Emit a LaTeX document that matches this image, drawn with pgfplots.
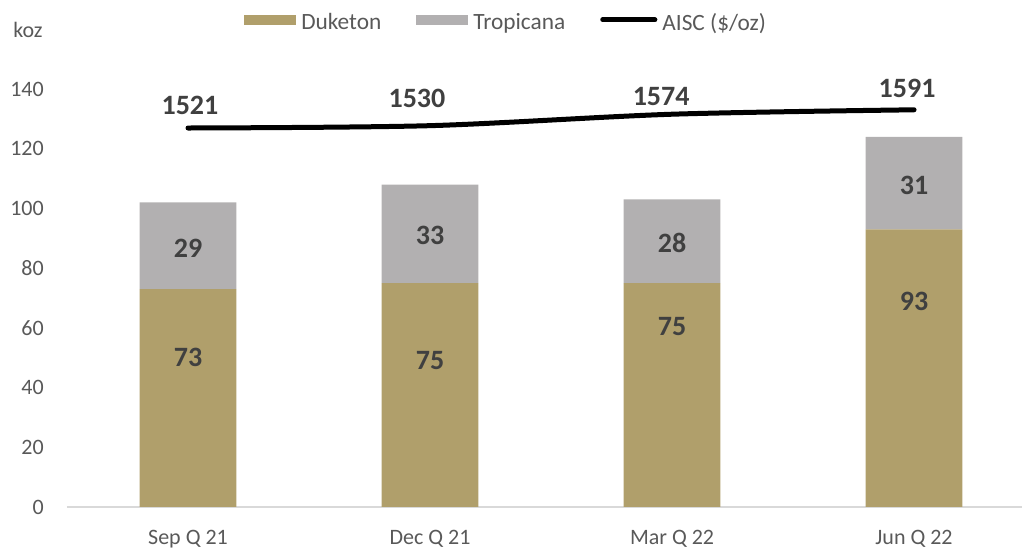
\documentclass[border=0pt]{standalone}
\usepackage{pgfplots}
\pgfplotsset{compat=1.18}
\usepackage{fontspec}
\setmainfont{Carlito}
\definecolor{duk}{HTML}{B09F6B}
\definecolor{tro}{HTML}{B2B0B1}
\definecolor{txt}{HTML}{595959}
\definecolor{lab}{HTML}{404040}
\definecolor{axg}{HTML}{D9D9D9}
\newcommand{\tickfont}{\fontsize{16.5}{19}\selectfont}
\newcommand{\legfont}{\fontsize{17.5}{20}\selectfont}
\newcommand{\labfont}{\bfseries\fontsize{21}{24}\selectfont}
\pgfplotsset{base/.style={at={(0,0)}, anchor=south west, scale only axis,
  width=716.25pt, height=313.5pt, xmin=-0.5, xmax=3.446, clip=false}}
\begin{document}
\begin{tikzpicture}
\path[use as bounding box] (-50.25pt,-32.25pt) rectangle (716.25pt,380.25pt);
\begin{axis}[
  base,
  ybar stacked, bar width=0.4,
  ymin=0, ymax=140,
  xtick={0,1,2,3}, xticklabels={Sep Q 21,Dec Q 21,Mar Q 22,Jun Q 22},
  ytick={0,20,...,140},
  axis x line*=bottom, axis y line*=left,
  x axis line style={draw=axg, line width=1.2pt, -},
  y axis line style={draw=none},
  major tick length=0pt,
  /pgf/number format/assume math mode=true,
  tick label style={font=\tickfont, text=txt},
  yticklabel style={anchor=east, inner sep=0pt, xshift=-17.25pt},
  xticklabel style={anchor=north, inner sep=0pt, yshift=-17pt},
  legend columns=3,
  legend style={draw=none, fill=none, inner sep=0pt, font=\legfont, text=txt,
    at={(0.18534,1.1591)}, anchor=west,
    /tikz/every odd column/.append style={column sep=3.75pt},
    /tikz/every even column/.append style={column sep=26.25pt},
    nodes={inner sep=0pt}},
]
\addplot[fill=duk, draw=none, legend image code/.code={\fill[duk] (0pt,-2.25pt) rectangle (39pt,5.25pt);}]
  coordinates {(0,73) (1,75) (2,75) (3,93)};
\addlegendentry{Duketon}
\addplot[fill=tro, draw=none, legend image code/.code={\fill[tro] (0pt,-2.25pt) rectangle (39pt,5.25pt);}]
  coordinates {(0,29) (1,33) (2,28) (3,31)};
\addlegendentry{Tropicana}
\addlegendimage{legend image code/.code={\draw[black, line width=3.75pt, line cap=round] (1.9pt,1.95pt) -- (41pt,1.95pt);}}
\addlegendentry{AISC (\$/oz)}
\end{axis}
\begin{axis}[
  base, ymin=64, ymax=1671, axis lines=none,
]
\addplot[black, line width=3.75pt, line cap=round, smooth, mark=none]
  coordinates {(0,1521) (1,1530) (2,1574) (3,1591)};
\end{axis}
\begin{axis}[
  base, ymin=0, ymax=140, axis lines=none,
]
% bar labels
\node[font=\labfont, text=lab] at (axis cs:0,50.2) {73};
\node[font=\labfont, text=lab] at (axis cs:1,48.9) {75};
\node[font=\labfont, text=lab] at (axis cs:2,60.3) {75};
\node[font=\labfont, text=lab] at (axis cs:3,68.7) {93};
\node[font=\labfont, text=lab] at (axis cs:0,86.7) {29};
\node[font=\labfont, text=lab] at (axis cs:1,91.0) {33};
\node[font=\labfont, text=lab] at (axis cs:2,88.4) {28};
\node[font=\labfont, text=lab] at (axis cs:3,107.8) {31};
% line labels
\node[font=\labfont, text=lab] at (axis cs:0.008,134.6) {1521};
\node[font=\labfont, text=lab] at (axis cs:0.946,137.0) {1530};
\node[font=\labfont, text=lab] at (axis cs:1.955,137.6) {1574};
\node[font=\labfont, text=lab] at (axis cs:2.971,140.3) {1591};
\node[font=\tickfont, text=txt] at (rel axis cs:-0.0408,1.141) {koz};
\end{axis}
\end{tikzpicture}
\end{document}
